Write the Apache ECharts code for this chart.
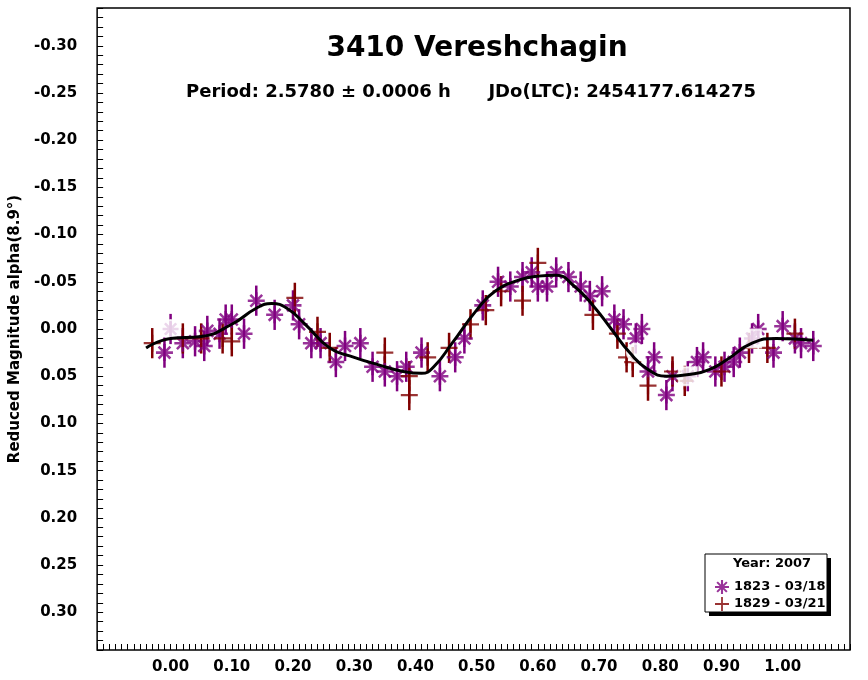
<!DOCTYPE html>
<html>
<head>
<meta charset="utf-8">
<script src="https://cdn.jsdelivr.net/npm/echarts@6/dist/echarts.min.js"></script>
<style>body{margin:0;background:#fff}#main{width:868px;height:680px}</style>
</head>
<body>
<div id="main"></div>
<script>
// phase, reduced magnitude
var night1823 = [[-0.01,0.025],[0.0,0.0],[0.02,0.015],[0.04,0.013],[0.055,0.018],[0.06,0.002],[0.08,0.005],[0.09,-0.01],[0.10,-0.01],[0.12,0.005],
  [0.14,-0.03],[0.17,-0.015],[0.20,-0.025],[0.21,-0.005],[0.23,0.015],[0.245,0.015],[0.27,0.035],[0.285,0.018],[0.31,0.015],[0.33,0.04],
  [0.35,0.045],[0.37,0.05],[0.385,0.04],[0.41,0.025],[0.44,0.05],[0.465,0.03],[0.48,0.01],[0.51,-0.025],[0.535,-0.05],[0.555,-0.045],
  [0.575,-0.055],[0.59,-0.06],[0.60,-0.045],[0.615,-0.045],[0.63,-0.06],[0.65,-0.055],[0.67,-0.045],[0.685,-0.035],[0.705,-0.04],[0.725,-0.01],
  [0.74,-0.005],[0.76,0.01],[0.77,0.0],[0.78,0.045],[0.79,0.03],[0.81,0.07],[0.82,0.05],[0.845,0.05],[0.86,0.035],[0.87,0.03],
  [0.89,0.045],[0.905,0.04],[0.92,0.035],[0.93,0.025],[0.95,0.01],[0.96,0.0],[0.985,0.025],[1.00,-0.003],[1.02,0.01],[1.03,0.015],[1.05,0.018]];
var night1829 = [[-0.03,0.015],[0.02,0.01],[0.05,0.01],[0.085,0.01],[0.10,0.013],[0.203,-0.033],[0.24,0.003],[0.26,0.02],[0.35,0.025],[0.39,0.05],
  [0.39,0.07],[0.42,0.03],[0.455,0.02],[0.49,-0.005],[0.515,-0.02],[0.54,-0.04],[0.575,-0.03],[0.60,-0.07],[0.69,-0.015],[0.73,0.005],
  [0.745,0.03],[0.755,0.035],[0.78,0.06],[0.82,0.045],[0.84,0.055],[0.9,0.045],[0.945,0.02],[0.975,0.02],[1.02,0.005]];
var fitCurve = [[-0.04,0.02],[0.0,0.01],[0.05,0.008],[0.1,-0.005],[0.14,-0.022],[0.165,-0.027],[0.19,-0.022],[0.22,-0.005],[0.26,0.02],[0.3,0.03],
  [0.34,0.038],[0.38,0.045],[0.41,0.047],[0.43,0.04],[0.46,0.015],[0.5,-0.02],[0.53,-0.04],[0.57,-0.052],[0.6,-0.056],[0.63,-0.057],
  [0.66,-0.045],[0.69,-0.025],[0.72,0.0],[0.75,0.025],[0.78,0.043],[0.81,0.05],[0.85,0.048],[0.88,0.043],[0.91,0.032],[0.95,0.015],
  [0.99,0.01],[1.05,0.012]];
var circled = [[0.0,0.0],[0.76,0.025]];
var boxed = [[0.95,0.01],[0.845,0.05]];
var errBar = 0.016;

var purple = '#800080', red = '#800000';
var star = 'path://M8.5,0H11.5V20H8.5Z M0,8.5H20V11.5H0Z M2,4.1L4.1,2L18,15.9L15.9,18Z M15.9,2L18,4.1L4.1,18L2,15.9Z';
var plus = 'path://M8.7,0H11.3V20H8.7Z M0,8.7H20V11.3H0Z';

function bars(color){
  return function(params, api){
    var x = api.value(0), y = api.value(1);
    var a = api.coord([x, y - errBar]), b = api.coord([x, y + errBar]);
    return {type:'line', shape:{x1:a[0],y1:a[1],x2:b[0],y2:b[1]}, style:{stroke:color, lineWidth:2.5}};
  };
}
function fmt(v){ var r = Math.round(v*100); return (r/100).toFixed(2); }

var chart = echarts.init(document.getElementById('main'));
chart.setOption({
  backgroundColor:'#fff',
  animation:false,
  textStyle:{fontFamily:'DejaVu Sans'},
  title:[
    {text:'3410 Vereshchagin', left:472, top:30, textAlign:'center', textStyle:{fontSize:28, fontWeight:'bold', color:'#000', fontFamily:'DejaVu Sans'}},
    {text:'Period: 2.5780 ± 0.0006 h      JDo(LTC): 2454177.614275', left:466, top:78, textAlign:'center', textStyle:{fontSize:18, fontWeight:'bold', color:'#000', fontFamily:'DejaVu Sans'}}
  ],
  grid:{left:90, right:18, top:8, bottom:30, show:true, borderColor:'#000', borderWidth:1.5},
  xAxis:{type:'value', min:-0.12, max:1.11, interval:0.01,
    axisLine:{show:false, onZero:false}, splitLine:{show:false},
    axisTick:{inside:true, length:6, lineStyle:{color:'#000'}, interval:function(i,v){ return Math.round(v*100)%10===0; }},
    axisLabel:{color:'#000', fontSize:15, fontWeight:'bold', margin:10, formatter:function(v){ var r=Math.round(v*100); return (r%10===0 && r>=0 && r<=100)?(r/100).toFixed(2):''; }}},
  yAxis:{type:'value', inverse:true, min:-0.34, max:0.34, interval:0.01,
    name:'Reduced Magnitude alpha(8.9°)', nameLocation:'middle', nameGap:66, nameRotate:90,
    nameTextStyle:{color:'#000', fontSize:15, fontWeight:'bold'},
    axisLine:{show:false, onZero:false}, splitLine:{show:false},
    axisTick:{inside:true, length:6, lineStyle:{color:'#000'}, interval:function(i,v){ return Math.round(v*100)%5===0; }},
    axisLabel:{color:'#000', fontSize:15, fontWeight:'bold', margin:20, formatter:function(v){ var r=Math.round(v*100); return (r%5===0 && Math.abs(r)<=30)?fmt(v):''; }}},
  legend:{orient:'vertical', left:710, top:575, itemGap:3, itemWidth:14, itemHeight:14, z:100,
    data:['1823 - 03/18','1829 - 03/21'], textStyle:{fontSize:13, fontWeight:'bold', color:'#000'}},
  graphic:[
    {type:'rect', shape:{x:709, y:558, width:122, height:58}, style:{fill:'#000'}, z:-10},
    {type:'rect', shape:{x:705, y:554, width:122, height:58}, style:{fill:'#fff', stroke:'#000', lineWidth:1}, z:-9},
    {type:'text', left:733, top:557, style:{text:'Year: 2007', fontSize:13, fontWeight:'bold', fill:'#000', fontFamily:'DejaVu Sans'}, z:-8}
  ],
  series:[
    {type:'line', data:fitCurve, smooth:0.5, symbol:'none', lineStyle:{color:'#000', width:3}, z:5},
    {type:'custom', data:night1823, renderItem:bars(purple), z:3},
    {type:'custom', data:night1829, renderItem:bars(red), z:3},
    {name:'1823 - 03/18', type:'scatter', data:night1823, symbol:star, symbolSize:17, itemStyle:{color:purple}, z:4},
    {name:'1829 - 03/21', type:'scatter', data:night1829, symbol:plus, symbolSize:17, itemStyle:{color:red}, z:4},
    {type:'scatter', data:circled, symbol:'emptyCircle', symbolSize:18, itemStyle:{color:'#fff', borderColor:purple, borderWidth:2}, z:4},
    {type:'scatter', data:boxed, symbol:'emptyRect', symbolSize:18, itemStyle:{color:'#fff', borderColor:purple, borderWidth:2}, z:4}
  ]
});
</script>
</body>
</html>
